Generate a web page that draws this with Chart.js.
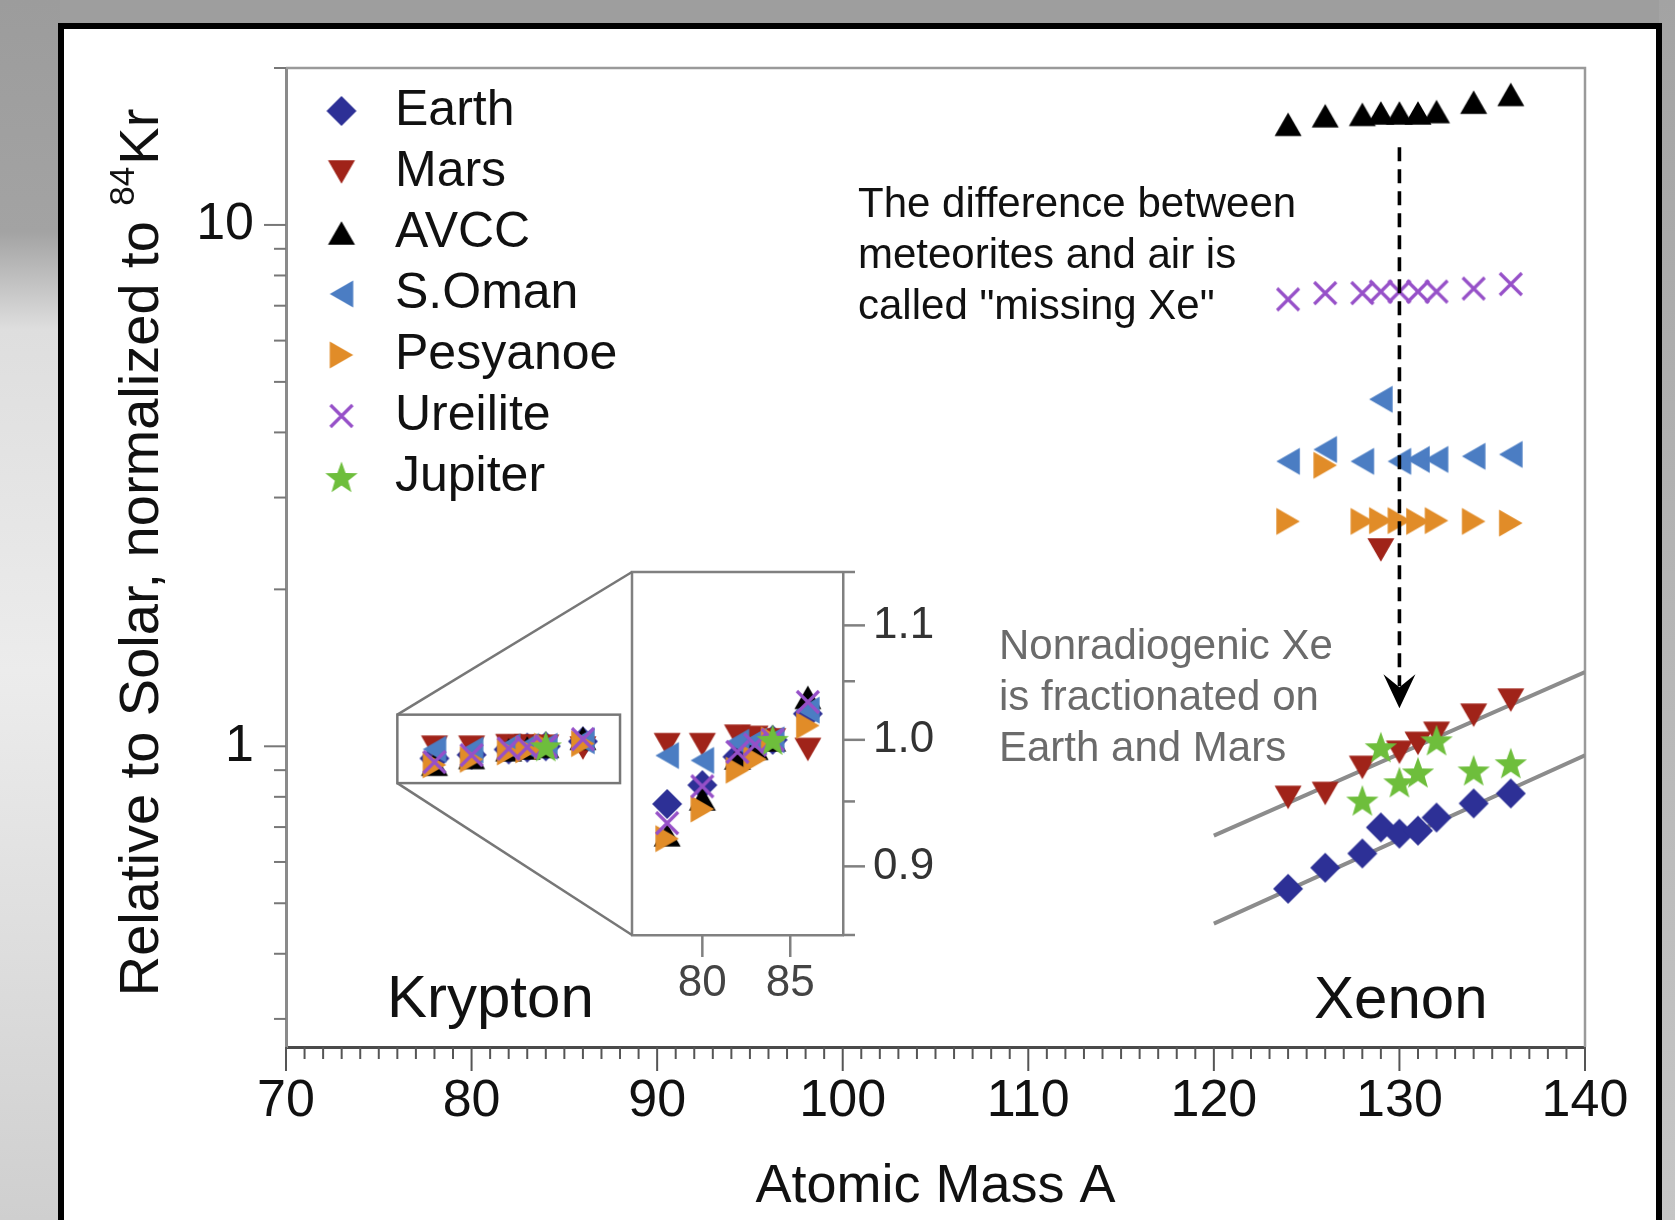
<!DOCTYPE html>
<html>
<head>
<meta charset="utf-8">
<title>Kr and Xe relative to Solar</title>
<script src="https://cdn.jsdelivr.net/npm/chart.js@4.4.1/dist/chart.umd.min.js"></script>
<style>
  html, body { margin: 0; padding: 0; }
  body { width: 1675px; height: 1220px; overflow: hidden; position: relative; background: #9e9e9e; }
  #leftGlow { position: absolute; left: 0; top: 0; width: 60px; height: 1220px;
    background: linear-gradient(to bottom, #9c9c9c 0%, #a3a3a3 19%, #dedede 27%, #ececec 55%, #dcdcdc 80%, #cfcfcf 100%); }
  #rightGlow { position: absolute; right: 0; top: 0; width: 16px; height: 1220px;
    background: linear-gradient(to bottom, #a3a3a3 0%, #b5b5b5 50%, #c6c6c6 100%); }
  #frame { position: absolute; left: 58px; top: 23px; width: 1592px; height: 1240px; background: #fff; border: 6px solid #000; }
  canvas { position: absolute; left: 0; top: 0; }
</style>
</head>
<body>
<div id="leftGlow"></div>
<div id="rightGlow"></div>
<div id="frame"></div>
<canvas id="mainChart" width="1675" height="1220"></canvas>
<canvas id="insetChart" width="1675" height="1220"></canvas>
<script>
// --- Data ---
const xeMass = [124, 126, 128, 129, 130, 131, 132, 134, 136];
const krMass = [78, 80, 82, 83, 84, 86];

const seriesNames  = ["Earth", "Mars", "AVCC", "S.Oman", "Pesyanoe", "Ureilite", "Jupiter"];
const seriesColors = ["#2d3096", "#a02319", "#000000", "#4b7dc3", "#e18c28", "#9650c8", "#6ebe3c"];
const seriesShapes = ["diamond", "down", "up", "left", "right", "cross", "star"];

const earthXe    = [0.533, 0.585, 0.623, 0.699, 0.680, 0.689, 0.730, 0.777, 0.812];
const marsXe     = [0.798, 0.812, 0.911, 2.38, 0.974, 1.013, 1.059, 1.147, 1.226];
const avccXe     = [15.6, 16.2, 16.3, 16.4, 16.4, 16.4, 16.5, 17.2, 17.8];
const somanXe    = [3.52, 3.71, 3.52, 4.63, 3.52, 3.55, 3.55, 3.60, 3.63];
const pesyanoeXe = [2.70, 3.46, 2.70, 2.71, 2.71, 2.70, 2.71, 2.70, 2.68];
const ureiliteXe = [7.20, 7.40, 7.40, 7.45, 7.45, 7.45, 7.45, 7.55, 7.70];
const jupiterXe  = [null, null, 0.787, 0.996, 0.853, 0.891, 1.027, 0.899, 0.928];

const earthKr    = [0.948, 0.963, 0.986, 0.994, 1.0, 1.022];
const marsKr     = [0.996, 0.996, 1.003, 1.002, 1.0, 0.992];
const avccKr     = [0.924, 0.952, 0.985, 0.993, 1.0, 1.036];
const somanKr    = [0.987, 0.983, 0.998, 0.999, 1.0, 1.025];
const pesyanoeKr = [0.921, 0.944, 0.975, 0.984, 1.0, 1.012];
const ureiliteKr = [0.933, 0.962, 0.990, 0.996, 1.0, 1.032];
const jupiterKr  = [null, null, null, null, 1.0, null];

const xeSeries = [earthXe, marsXe, avccXe, somanXe, pesyanoeXe, ureiliteXe, jupiterXe];
const krSeries = [earthKr, marsKr, avccKr, somanKr, pesyanoeKr, ureiliteKr, jupiterKr];

// fractionation lines through Mars and Earth Xe
const trendMass  = [120, 140];
const marsTrend  = [0.674, 1.388];
const earthTrend = [0.457, 0.961];

// "missing Xe" arrow
const arrowMass = 130;
const arrowFrom = 14.1;
const arrowTo   = 1.183;

// zoomed Krypton region
const zoomMass  = [76, 88];
const zoomRatio = [0.85, 1.15];

// --- Ticks ---
const xTickLabels = [70, 80, 90, 100, 110, 120, 130, 140];
const xMinorStep  = 1;
const yTicks      = [0.3, 0.4, 0.5, 0.6, 0.7, 0.8, 0.9, 1, 2, 3, 4, 5, 6, 7, 8, 9, 10, 20];
const yTickLabels = [1, 10];
const insetXTicks  = [80, 85];
const insetYTicks  = [0.85, 0.9, 0.95, 1.0, 1.05, 1.1, 1.15];
const insetYLabels = [0.9, 1.0, 1.1];

// --- Text ---
const noteMissing  = ["The difference between", "meteorites and air is", "called \"missing Xe\""];
const noteFraction = ["Nonradiogenic Xe", "is fractionated on", "Earth and Mars"];

const FONT = "'Liberation Sans', Arial, Helvetica, sans-serif";
Chart.defaults.font.family = FONT;

// --- Markers ---
// dx shifts the symbol inside its canvas (used for the legend column)
function makeMarker(shape, color, dx = 0) {
    const c = document.createElement("canvas");
    c.width = 38 + 2 * Math.abs(dx); c.height = 38;
    const g = c.getContext("2d");
    const m = 19, cx = c.width / 2 + dx;
    g.fillStyle = color;
    g.strokeStyle = color;
    g.beginPath();
    if (shape === "diamond") {
        g.moveTo(cx, m - 15); g.lineTo(cx + 15, m); g.lineTo(cx, m + 15); g.lineTo(cx - 15, m);
        g.closePath(); g.fill();
    } else if (shape === "cross") {
        g.lineWidth = 3.2;
        g.moveTo(cx - 11, m - 11); g.lineTo(cx + 11, m + 11);
        g.moveTo(cx + 11, m - 11); g.lineTo(cx - 11, m + 11);
        g.stroke();
    } else if (shape === "star") {
        for (let i = 0; i < 10; i++) {
            const r = i % 2 ? 7 : 17;
            const a = -Math.PI / 2 + i * Math.PI / 5;
            g.lineTo(cx + r * Math.cos(a), m + 1.6 + r * Math.sin(a));
        }
        g.closePath(); g.fill();
    } else {
        const rot = { up: 0, right: Math.PI / 2, down: Math.PI, left: -Math.PI / 2 }[shape];
        g.translate(cx, m);
        g.rotate(rot);
        g.moveTo(0, -11.75); g.lineTo(13.5, 11.75); g.lineTo(-13.5, 11.75);
        g.closePath(); g.fill();
    }
    return c;
}
const markers = seriesShapes.map((s, i) => makeMarker(s, seriesColors[i]));
const legendMarkers = seriesShapes.map((s, i) => makeMarker(s, seriesColors[i], 8));

function toPoints(mass, vals) {
    return mass.map((m, i) => ({ x: m, y: vals[i] })).filter(p => p.y !== null);
}

function line(ctx, x1, y1, x2, y2) {
    ctx.beginPath(); ctx.moveTo(x1, y1); ctx.lineTo(x2, y2); ctx.stroke();
}

// --- Main chart decorations ---
const mainDecor = {
    id: "mainDecor",
    beforeDatasetsDraw(chart) {
        const { ctx, chartArea: a, scales: { x, y } } = chart;
        ctx.save();
        // top / right frame
        ctx.strokeStyle = "#9a9a9a";
        ctx.lineWidth = 2.5;
        ctx.beginPath();
        ctx.moveTo(a.left, a.top); ctx.lineTo(a.right, a.top); ctx.lineTo(a.right, a.bottom);
        ctx.stroke();
        // x ticks
        ctx.strokeStyle = "#555";
        ctx.lineWidth = 2;
        for (let m = x.min; m <= x.max; m += xMinorStep) {
            const px = x.getPixelForValue(m);
            line(ctx, px, a.bottom, px, a.bottom + (xTickLabels.includes(m) ? 24 : 12));
        }
        // y ticks
        ctx.strokeStyle = "#777";
        yTicks.forEach(v => {
            const py = y.getPixelForValue(v);
            line(ctx, a.left - (yTickLabels.includes(v) ? 22 : 12), py, a.left, py);
        });
        // zoom box
        ctx.strokeStyle = "#777";
        ctx.lineWidth = 2.5;
        const bx0 = x.getPixelForValue(zoomMass[0]), bx1 = x.getPixelForValue(zoomMass[1]);
        const by0 = y.getPixelForValue(zoomRatio[1]), by1 = y.getPixelForValue(zoomRatio[0]);
        ctx.strokeRect(bx0, by0, bx1 - bx0, by1 - by0);
        ctx.restore();
    },
    afterDatasetsDraw(chart) {
        const { ctx, chartArea: a, scales: { x, y } } = chart;
        ctx.save();
        // dashed arrow
        const ax = x.getPixelForValue(arrowMass);
        const yTop = y.getPixelForValue(arrowFrom), yTip = y.getPixelForValue(arrowTo);
        ctx.strokeStyle = "#000";
        ctx.fillStyle = "#000";
        ctx.lineWidth = 3.6;
        ctx.setLineDash([14, 8]);
        line(ctx, ax, yTop, ax, yTip - 22);
        ctx.setLineDash([]);
        ctx.beginPath();
        ctx.moveTo(ax, yTip); ctx.lineTo(ax - 16, yTip - 34); ctx.lineTo(ax, yTip - 21); ctx.lineTo(ax + 16, yTip - 34);
        ctx.closePath(); ctx.fill();

        // notes
        ctx.textBaseline = "alphabetic";
        ctx.textAlign = "left";
        ctx.font = "42px " + FONT;
        ctx.fillStyle = "#111";
        noteMissing.forEach((t, i) => ctx.fillText(t, 858, 217 + i * 51));
        ctx.fillStyle = "#6b6b6b";
        noteFraction.forEach((t, i) => ctx.fillText(t, 999, 659 + i * 51));
        ctx.fillStyle = "#111";
        ctx.font = "60px " + FONT;
        ctx.fillText("Krypton", 387, 1017);
        ctx.fillText("Xenon", 1314, 1018);

        // y axis title with superscript
        ctx.translate(158, (a.top + a.bottom) / 2 - 4);
        ctx.rotate(-Math.PI / 2);
        const t1 = "Relative to Solar, normalized to ", t2 = "84", t3 = "Kr";
        ctx.font = "56px " + FONT;
        const w1 = ctx.measureText(t1).width, w3 = ctx.measureText(t3).width;
        ctx.font = "35px " + FONT;
        const w2 = ctx.measureText(t2).width;
        const s = -(w1 + w2 + w3) / 2;
        ctx.font = "56px " + FONT;
        ctx.fillText(t1, s, 0);
        ctx.fillText(t3, s + w1 + w2 + 2, 0);
        ctx.font = "35px " + FONT;
        ctx.fillText(t2, s + w1, -24);
        ctx.restore();
    }
};

// --- Main chart ---
const mainDatasets = seriesNames.map((name, i) => ({
    label: name,
    data: toPoints(krMass, krSeries[i]).concat(toPoints(xeMass, xeSeries[i])),
    pointStyle: markers[i],
    pointRadius: 12,
    backgroundColor: seriesColors[i],
    borderColor: seriesColors[i],
    order: -i
}));
mainDatasets.push(
    { label: "Mars fractionation", data: toPoints(trendMass, marsTrend), showLine: true,
      pointRadius: 0, borderColor: "#8c8c8c", borderWidth: 4, order: 10 },
    { label: "Earth fractionation", data: toPoints(trendMass, earthTrend), showLine: true,
      pointRadius: 0, borderColor: "#8c8c8c", borderWidth: 4, order: 10 }
);

const mainChart = new Chart(document.getElementById("mainChart"), {
    type: "scatter",
    data: { datasets: mainDatasets },
    options: {
        responsive: false,
        animation: false,
        devicePixelRatio: 1,
        layout: { padding: { left: 0, top: 68, right: 90, bottom: 0 } },
        plugins: {
            tooltip: { enabled: false },
            legend: {
                position: "chartArea",
                align: "start",
                title: { display: true, text: " ", font: { size: 10, lineHeight: 1 }, padding: { top: 65, bottom: 0 } },
                labels: {
                    usePointStyle: true,
                    pointStyleWidth: 73,
                    boxHeight: 30,
                    padding: 11,
                    color: "#111",
                    font: { size: 50 },
                    generateLabels: chart => Chart.defaults.plugins.legend.labels.generateLabels(chart)
                        .map(item => Object.assign(item, { pointStyle: legendMarkers[item.datasetIndex] || item.pointStyle })),
                    filter: item => item.datasetIndex < seriesNames.length,
                    sort: (p, q) => p.datasetIndex - q.datasetIndex
                }
            }
        },
        scales: {
            x: {
                type: "linear",
                min: 70,
                max: 140,
                afterBuildTicks: s => { s.ticks = xTickLabels.map(v => ({ value: v })); },
                afterFit: s => { s.height = 173; },
                grid: { display: false, drawTicks: true, tickLength: 22 },
                border: { display: true, color: "#4a4a4a", width: 3 },
                ticks: { color: "#111", font: { size: 52 }, padding: 1, maxRotation: 0, autoSkip: false },
                title: { display: true, text: "Atomic Mass A", color: "#111", font: { size: 54 }, padding: { top: 0, bottom: 0 } }
            },
            y: {
                type: "logarithmic",
                min: 0.265,
                max: 20,
                afterBuildTicks: s => { s.ticks = yTicks.map(v => ({ value: v })); },
                afterFit: s => { s.width = 286; },
                grid: { display: false, drawTicks: true, tickLength: 22 },
                border: { display: true, color: "#8a8a8a", width: 3 },
                ticks: { color: "#111", font: { size: 52 }, padding: 10, autoSkip: false,
                         callback: v => yTickLabels.includes(v) ? String(v) : "" }
            }
        }
    },
    plugins: [mainDecor]
});

// --- Inset decorations ---
const insetDecor = {
    id: "insetDecor",
    beforeDatasetsDraw(chart) {
        const { ctx, chartArea: a, scales: { x, y } } = chart;
        ctx.save();
        ctx.strokeStyle = "#808080";
        ctx.lineWidth = 2.5;
        ctx.beginPath();
        ctx.moveTo(a.left, a.bottom); ctx.lineTo(a.left, a.top); ctx.lineTo(a.right, a.top);
        ctx.stroke();
        insetXTicks.forEach(v => {
            const px = x.getPixelForValue(v);
            line(ctx, px, a.bottom, px, a.bottom + 22);
        });
        insetYTicks.forEach(v => {
            const py = y.getPixelForValue(v);
            line(ctx, a.right, py, a.right + (insetYLabels.includes(v) ? 22 : 12), py);
        });
        // connectors from the box on the main chart
        const mx = mainChart.scales.x, my = mainChart.scales.y;
        const bx = mx.getPixelForValue(zoomMass[0]);
        ctx.strokeStyle = "#777";
        line(ctx, bx, my.getPixelForValue(zoomRatio[1]), a.left, a.top);
        line(ctx, bx, my.getPixelForValue(zoomRatio[0]), a.left, a.bottom);
        ctx.restore();
    }
};

// --- Inset chart ---
const insetDatasets = seriesNames.map((name, i) => ({
    label: name,
    data: toPoints(krMass, krSeries[i]),
    pointStyle: markers[i],
    pointRadius: 12,
    backgroundColor: seriesColors[i],
    order: -i
}));

const insetChart = new Chart(document.getElementById("insetChart"), {
    type: "scatter",
    data: { datasets: insetDatasets },
    options: {
        responsive: false,
        animation: false,
        devicePixelRatio: 1,
        layout: { padding: { left: 632, top: 572, right: 712, bottom: 185 } },
        plugins: { legend: { display: false }, tooltip: { enabled: false } },
        scales: {
            x: {
                type: "linear",
                min: zoomMass[0],
                max: zoomMass[1],
                afterBuildTicks: s => { s.ticks = insetXTicks.map(v => ({ value: v })); },
                afterFit: s => { s.height = 100; },
                grid: { display: false, drawTicks: true, tickLength: 22 },
                border: { display: true, color: "#808080", width: 2.5 },
                ticks: { color: "#444", font: { size: 44 }, padding: 0, maxRotation: 0, autoSkip: false }
            },
            y: {
                type: "logarithmic",
                position: "right",
                min: zoomRatio[0],
                max: zoomRatio[1],
                afterBuildTicks: s => { s.ticks = insetYTicks.map(v => ({ value: v })); },
                afterFit: s => { s.width = 120; },
                grid: { display: false, drawTicks: true, tickLength: 22 },
                border: { display: true, color: "#808080", width: 2.5 },
                ticks: { color: "#333", font: { size: 44 }, padding: 8, autoSkip: false,
                         callback: v => insetYLabels.includes(v) ? v.toFixed(1) : "" }
            }
        }
    },
    plugins: [insetDecor]
});
</script>
</body>
</html>
